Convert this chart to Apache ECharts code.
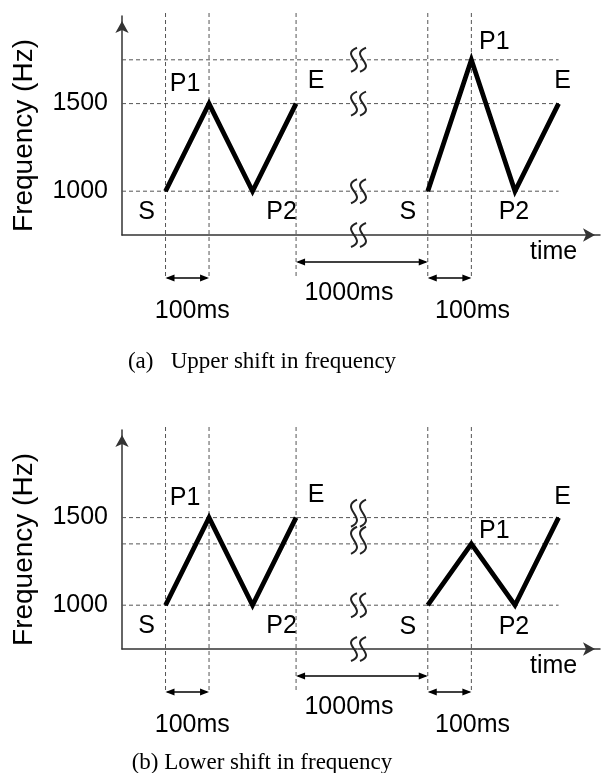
<!DOCTYPE html>
<html>
<head>
<meta charset="utf-8">
<script src="https://cdn.jsdelivr.net/npm/echarts@6/dist/echarts.min.js"></script>
<style>
html, body { margin: 0; padding: 0; background: #fff; }
#chart { width: 602px; height: 773px; }
</style>
</head>
<body>
<div id="chart"></div>
<script>
// data
var pointNames = ['S', 'P1', 'P2', 'E'];
var timesFirst = [0, 100, 200, 300];          // ms
var timesSecond = [1300, 1400, 1500, 1600];   // ms, after the 1000ms pause
var freqFirst = [1000, 1500, 1000, 1500];     // Hz
var freqUpper = [1000, 1750, 1000, 1500];
var freqLower = [1000, 1350, 1000, 1500];
var yTicks = [1000, 1500];
var levelsUpper = [1000, 1500, 1750];
var levelsLower = [1000, 1350, 1500];
var guideTimes = [0, 100, 300, 1300, 1400];
var spanStart = [0, 300, 1300];
var spanEnd = [100, 1300, 1400];
var spanText = ['100ms', '1000ms', '100ms'];
var breakLevelsUpper = [[1750], [1500], [1000], [750]];
var breakLevelsLower = [[1500, 1350], [1000], [750]];
var captions = ['(a)   Upper shift in frequency', '(b) Lower shift in frequency'];

var FONT = '"Liberation Sans", Arial, sans-serif';
var SERIF = '"Liberation Serif", "Times New Roman", serif';
var AXIS = '#333';
var GUIDE = '#555';

// label offsets (px) around each point, per wave
var offFirst = [[-19, 21], [-24, -19], [29, 21], [20, -22]];
var offSecond = [
    [[-20, 21], [23, -18], [-1, 21], [4, -22]],
    [[-20, 22], [23, -13], [-1, 22], [4, -20]]
];
var spanRow = [43, 27, 43];
var spanTextOff = [[5, 33], [-13, 31], [23, 33]];
var captionPos = [[262, 362], [262, 763]];

var panelTops = [16, 430];
var secondFreq = [freqUpper, freqLower];
var panelLevels = [levelsUpper, levelsLower];
var panelBreaks = [breakLevelsUpper, breakLevelsLower];

var dom = document.getElementById('chart');
var myChart = echarts.init(dom);

function waveData(times, freqs, offs) {
    return times.map(function (t, i) {
        return {
            value: [t, freqs[i]],
            label: { offset: offs[i], formatter: pointNames[i] }
        };
    });
}

var grids = [], xAxes = [], yAxes = [], series = [];
panelTops.forEach(function (top, p) {
    grids.push({ left: 122, top: top, width: 235, height: 219 });
    grids.push({ left: 358, top: top, width: 242, height: 219 });
    xAxes.push({
        gridIndex: 2 * p, type: 'value', min: -100, max: 440,
        axisLine: { onZero: false, lineStyle: { color: AXIS, width: 1.5 } },
        axisTick: { show: false }, axisLabel: { show: false }, splitLine: { show: false }
    });
    xAxes.push({
        gridIndex: 2 * p + 1, type: 'value', min: 1140, max: 1695,
        axisLine: {
            onZero: false, symbol: ['none', 'arrow'], symbolSize: [10, 12], symbolOffset: [0, -5],
            lineStyle: { color: AXIS, width: 1.5 }
        },
        axisTick: { show: false }, axisLabel: { show: false }, splitLine: { show: false }
    });
    yAxes.push({
        gridIndex: 2 * p, type: 'value', min: 750, max: 2000,
        name: 'Frequency (Hz)', nameLocation: 'middle', nameGap: 84,
        nameTextStyle: { fontFamily: FONT, fontSize: 28, color: '#000', padding: [0, 20, 0, 0] },
        axisLine: {
            show: true, onZero: false, symbol: ['none', 'arrow'], symbolSize: [10, 12], symbolOffset: [0, -5],
            lineStyle: { color: AXIS, width: 1.5 }
        },
        axisTick: { show: false },
        axisLabel: {
            customValues: yTicks, fontFamily: FONT, fontSize: 25, color: '#000', margin: 14,
            formatter: function (v) { return String(v); }
        },
        splitLine: { show: false }
    });
    yAxes.push({ gridIndex: 2 * p + 1, type: 'value', min: 750, max: 2000, show: false });

    var common = {
        type: 'line',
        symbol: 'circle', symbolSize: 1,
        itemStyle: { color: '#000' },
        lineStyle: { color: '#000', width: 4.8, join: 'miter' },
        label: { show: true, position: 'inside', fontFamily: FONT, fontSize: 25, color: '#000' },
        z: 5
    };
    series.push(Object.assign({}, common, {
        xAxisIndex: 2 * p, yAxisIndex: 2 * p,
        data: waveData(timesFirst, freqFirst, offFirst)
    }));
    series.push(Object.assign({}, common, {
        xAxisIndex: 2 * p + 1, yAxisIndex: 2 * p + 1,
        data: waveData(timesSecond, secondFreq[p], offSecond[p])
    }));
});

myChart.setOption({
    animation: false,
    backgroundColor: '#fff',
    grid: grids,
    xAxis: xAxes,
    yAxis: yAxes,
    series: series
});

// annotations placed through the axes' own scales
function pt(p, t, f) {
    var k = 2 * p + (t > 800 ? 1 : 0);
    return myChart.convertToPixel({ xAxisIndex: k, yAxisIndex: k }, [t, f]);
}

var g = [];
var dashed = { stroke: GUIDE, lineWidth: 1, lineDash: [4, 3] };

panelTops.forEach(function (top, p) {
    // horizontal guides
    panelLevels[p].forEach(function (lv) {
        var a = pt(p, -100, lv), b = pt(p, 1600, lv);
        g.push({ type: 'line', shape: { x1: a[0], y1: a[1], x2: b[0], y2: a[1] }, style: dashed, z: 1 });
    });
    var axisY = pt(p, 0, 750)[1];
    var topY = pt(p, 0, 2000)[1];
    // vertical guides
    guideTimes.forEach(function (t) {
        var x = pt(p, t, 1000)[0];
        g.push({ type: 'line', shape: { x1: x, y1: topY - 3, x2: x, y2: axisY + 43 }, style: dashed, z: 1 });
    });
    // duration arrows
    spanStart.forEach(function (t0, i) {
        var x1 = pt(p, t0, 1000)[0], x2 = pt(p, spanEnd[i], 1000)[0];
        var y = axisY + spanRow[i];
        g.push({ type: 'line', shape: { x1: x1 + 2, y1: y, x2: x2 - 2, y2: y }, style: { stroke: '#000', lineWidth: 1.5 }, z: 3 });
        g.push({ type: 'polygon', shape: { points: [[x1, y], [x1 + 9, y - 3.5], [x1 + 9, y + 3.5]] }, style: { fill: '#000' }, z: 3 });
        g.push({ type: 'polygon', shape: { points: [[x2, y], [x2 - 9, y - 3.5], [x2 - 9, y + 3.5]] }, style: { fill: '#000' }, z: 3 });
        g.push({
            type: 'text', x: (x1 + x2) / 2 + spanTextOff[i][0], y: y + spanTextOff[i][1],
            style: { text: spanText[i], fontFamily: FONT, fontSize: 25, fill: '#000', align: 'center', verticalAlign: 'middle' }, z: 3
        });
    });
    // time label
    var tp = pt(p, 1600, 750);
    g.push({
        type: 'text', x: tp[0] - 5, y: tp[1] + 17,
        style: { text: 'time', fontFamily: FONT, fontSize: 25, fill: '#000', align: 'center', verticalAlign: 'middle' }, z: 3
    });
    // break marks on the time axis
    panelBreaks[p].forEach(function (lvs) {
        var bx = pt(p, 1140, 1000)[0] + 1;
        var yA = pt(p, 1140, lvs[0])[1];
        var yB = pt(p, 1140, lvs[lvs.length - 1])[1];
        var y0, y1, n;
        if (lvs.length === 1) { y0 = yA - 12; y1 = yA + 12; n = 1; }
        else { y0 = yA - 18; y1 = yB + 10; n = 2; }
        var h = (y1 - y0) / n;
        [-5, 4].forEach(function (dx) {
            var x = bx + dx;
            for (var s = 0; s < n; s++) {
                var ys = y0 + s * h;
                g.push({
                    type: 'bezierCurve',
                    shape: { x1: x + 3, y1: ys, cpx1: x - 15, cpy1: ys + h * 0.3, cpx2: x + 15, cpy2: ys + h * 0.7, x2: x - 3, y2: ys + h },
                    style: { stroke: '#222', lineWidth: 2, fill: null }, z: 4
                });
            }
        });
    });
    // caption
    g.push({
        type: 'text', x: captionPos[p][0], y: captionPos[p][1],
        style: { text: captions[p], fontFamily: SERIF, fontSize: 23, fill: '#000', align: 'center', verticalAlign: 'middle' }, z: 3
    });
});

myChart.setOption({ graphic: g });
</script>
</body>
</html>
